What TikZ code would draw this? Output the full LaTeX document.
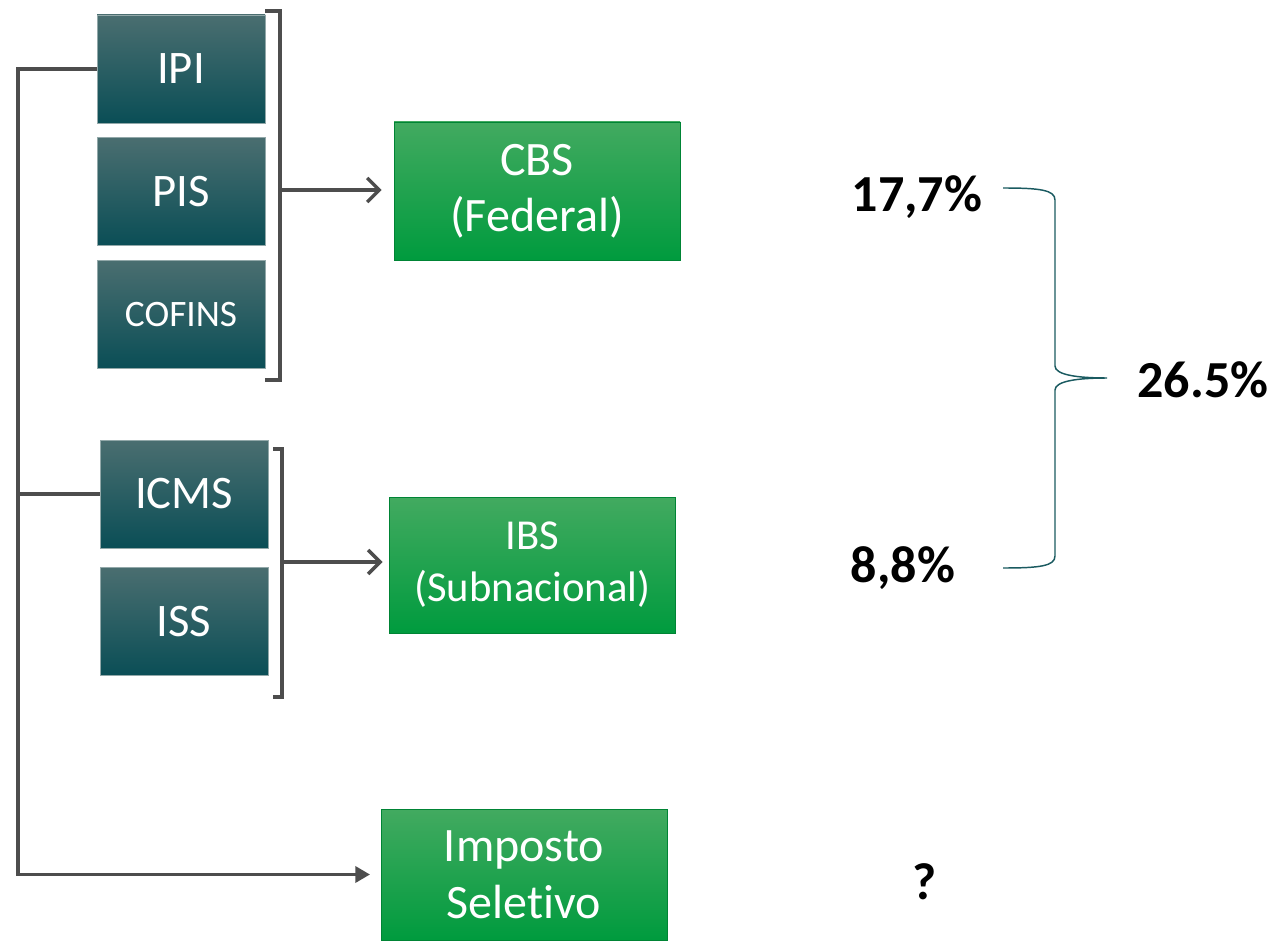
\documentclass[tikz,border=0pt]{standalone}
\usepackage{fontspec}
\setmainfont{Carlito}[Ligatures={TeX,NoCommon}]
\usepackage{xcolor}
\usetikzlibrary{positioning, arrows.meta}
\definecolor{tealtop}{RGB}{74, 110, 112}
\definecolor{tealmid}{RGB}{14, 84, 91}
\definecolor{tealbot}{RGB}{10, 78, 86}
\definecolor{greentop}{RGB}{66, 170, 96}
\definecolor{greenbot}{RGB}{0, 155, 62}
\definecolor{linegray}{RGB}{77, 77, 77}
\definecolor{bracecol}{RGB}{26, 90, 96}

\begin{document}
\begin{tikzpicture}[x=0.75pt, y=-0.75pt,
        oldtax/.style={rectangle, draw=tealtop!60!white, line width=0.5pt, top color=tealtop, middle color=tealmid, bottom color=tealbot, text=white, minimum width=126pt, minimum height=81pt, inner sep=0pt, font=\fontsize{35}{42}\selectfont},
        newtax/.style={rectangle, draw=greenbot!85!black, line width=0.5pt, top color=greentop, bottom color=greenbot, text=white, minimum width=214.5pt, inner sep=0pt, align=center},
        link/.style={draw=linegray, line width=2.6pt},
        rate/.style={font=\bfseries\fontsize{39}{46}\selectfont}
    ]
        \useasboundingbox (0,0) rectangle (1278,941);

        % current taxes
        \node (ipi) [oldtax] at (181,69) {IPI};
        \node (pis) [oldtax, below=10.5pt of ipi] {PIS};
        \node (cofins) [oldtax, below=10.5pt of pis, font=\fontsize{28}{34}\selectfont] {COFINS};
        \node (icms) [oldtax] at (184,494) {ICMS};
        \node (iss) [oldtax, below=14.25pt of icms] {ISS};

        % new taxes
        \node (cbs) [newtax, minimum height=103.5pt, font=\fontsize{36}{42}\selectfont] at (537,191) {CBS\\(Federal)};
        \node (ibs) [newtax, minimum height=102pt, font=\fontsize{32}{39}\selectfont] at (532.5,565) {IBS\\(Subnacional)};
        \node (seletivo) [newtax, minimum height=98pt, font=\fontsize{36}{43}\selectfont] at (524,874.5) {Imposto\\Seletivo};

        % brackets
        \draw[link] (265,11) -- (280,11) -- (280,380) -- (265,380);
        \draw[link] (273,449) -- (282,449) -- (282,697) -- (273,697);
        \coordinate (fedjoin) at (280,190);
        \coordinate (subjoin) at (282,562);
        \draw[link, -{Straight Barb[length=9pt, width=18pt]}, shorten >=9pt] (fedjoin) -- (fedjoin -| cbs.west);
        \draw[link, -{Straight Barb[length=9pt, width=18pt]}, shorten >=5pt] (subjoin) -- (subjoin -| ibs.west);

        % spine on the left
        \coordinate (spine) at (18,69);
        \draw[link, -{Triangle[length=11pt, width=12pt]}, shorten >=8pt] (ipi.west) -- (spine) |- (seletivo.west);
        \draw[link] (icms.west) -- (icms.west -| spine);

        % rates
        \node (cbsrate) [rate] at (917,197) {17,7\%};
        \node (ibsrate) [rate] at (903,568) {8,8\%};
        \node (total) [rate] at (1203,380) {26.5\%};
        \node (selrate) [rate] at (925,882) {?};

        \draw[bracecol, line width=1.1pt] (1003,188) .. controls (1040,188) and (1055,190) .. (1055,200) -- (1055,366) .. controls (1055,375) and (1078,378) .. (1107,378) .. controls (1078,378) and (1055,381) .. (1055,390) -- (1055,556) .. controls (1055,566) and (1040,568) .. (1003,568);
    \end{tikzpicture}
\end{document}
